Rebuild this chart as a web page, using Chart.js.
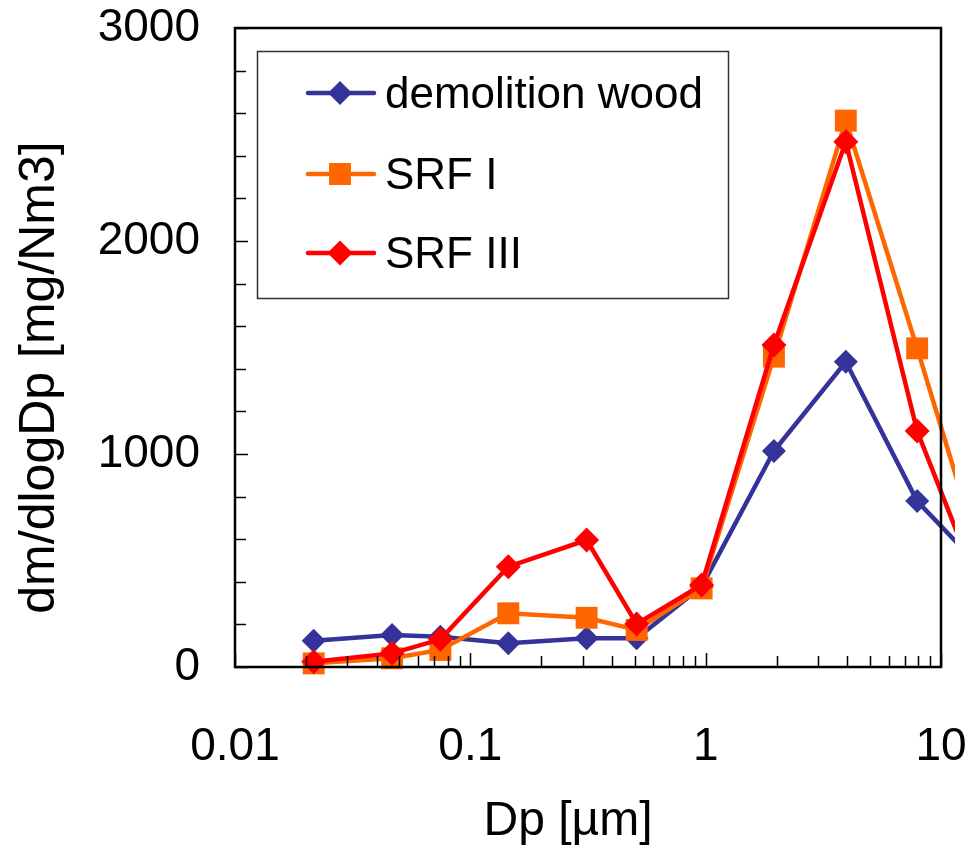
<!DOCTYPE html>
<html>
<head>
<meta charset="utf-8">
<script src="https://cdn.jsdelivr.net/npm/chart.js@4/dist/chart.umd.min.js"></script>
<style>
  html, body { margin: 0; padding: 0; background: #fff; }
  #wrap { width: 978px; height: 852px; position: relative; }
</style>
</head>
<body>
<div id="wrap"><canvas id="chart"></canvas></div>
<script>
(function () {
  'use strict';

  // particle diameter, um (impactor stage midpoints)
  var DP = [0.0216, 0.0465, 0.0746, 0.145, 0.312, 0.509, 0.961, 1.95, 3.94, 7.92, 15.9];

  var DEMOLITION_WOOD = [123, 150, 142, 111, 135, 135, 377, 1014, 1433, 779, 428];
  var SRF_I = [17, 41, 80, 252, 231, 174, 369, 1457, 2565, 1496, 395];
  var SRF_III = [25, 64, 130, 471, 596, 202, 385, 1512, 2466, 1108, 257];

  var X_LABELS = [0.01, 0.1, 1, 10];
  var Y_LABELS = [0, 1000, 2000, 3000];
  var X_TITLE = 'Dp [µm]';
  var Y_TITLE = 'dm/dlogDp [mg/Nm3]';

  var FONT = "'Liberation Sans', Arial, sans-serif";

  function points(ys) {
    return ys.map(function (y, i) { return { x: DP[i], y: y }; });
  }

  function series(label, ys, color, style, radius, order) {
    return {
      label: label,
      data: points(ys),
      borderColor: color,
      backgroundColor: color,
      borderWidth: 4.5,
      pointStyle: style,
      pointRadius: radius,
      pointHoverRadius: radius,
      pointBorderWidth: 0,
      tension: 0,
      order: order,
      clip: { left: 15, top: 15, right: 14, bottom: 15 }
    };
  }

  var datasets = [
    series('demolition wood', DEMOLITION_WOOD, '#333399', 'rectRot', 12, 3),
    series('SRF I', SRF_I, '#FF6600', 'rect', 15.5, 2),
    series('SRF III', SRF_III, '#FF0000', 'rectRot', 12.5, 1)
  ];

  // frame, inward tick marks, axis titles and the boxed legend
  var decorPlugin = {
    id: 'decor',
    afterDraw: function (chart) {
      var ctx = chart.ctx;
      var a = chart.chartArea;
      var xs = chart.scales.x;
      var ys = chart.scales.y;
      ctx.save();

      ctx.strokeStyle = '#000';
      ctx.lineWidth = 1.5;
      ys.ticks.forEach(function (t) {
        var py = Math.round(ys.getPixelForValue(t.value)) + 0.5;
        var len = t.value % 1000 === 0 ? 13 : 11;
        ctx.beginPath();
        ctx.moveTo(a.left, py);
        ctx.lineTo(a.left + len, py);
        ctx.stroke();
      });
      xs.ticks.forEach(function (t) {
        var px = Math.round(xs.getPixelForValue(t.value)) + 0.5;
        var major = X_LABELS.indexOf(t.value) >= 0;
        ctx.beginPath();
        ctx.moveTo(px, a.bottom);
        ctx.lineTo(px, a.bottom - (major ? 14 : 11));
        ctx.stroke();
      });

      ctx.lineWidth = 2.5;
      ctx.strokeRect(a.left, a.top, a.right - a.left, a.bottom - a.top);

      // axis titles (sit a little off-centre in the original)
      ctx.fillStyle = '#000';
      ctx.textAlign = 'center';
      ctx.textBaseline = 'middle';
      ctx.font = '48px ' + FONT;
      ctx.fillText(X_TITLE, (a.left + a.right) / 2 - 20, a.bottom + 155);
      ctx.save();
      ctx.translate(40, (a.top + a.bottom) / 2 + 30);
      ctx.rotate(-Math.PI / 2);
      ctx.font = '50px ' + FONT;
      ctx.fillText(Y_TITLE, 0, 0);
      ctx.restore();

      // legend
      var lx = a.left + 22, ly = a.top + 23, lw = 471, lh = 247;
      ctx.fillStyle = '#fff';
      ctx.fillRect(lx, ly, lw, lh);
      ctx.lineWidth = 1.5;
      ctx.strokeStyle = '#333';
      ctx.strokeRect(lx + 0.5, ly + 0.5, lw, lh);

      var rows = [42, 123, 202];
      chart.data.datasets.forEach(function (ds, i) {
        var cy = ly + rows[i];
        ctx.strokeStyle = ds.borderColor;
        ctx.lineWidth = 4.5;
        ctx.lineCap = 'round';
        ctx.beginPath();
        ctx.moveTo(lx + 51, cy);
        ctx.lineTo(lx + 117, cy);
        ctx.stroke();
        ctx.fillStyle = ds.backgroundColor;
        Chart.helpers.drawPoint(ctx, {
          pointStyle: ds.pointStyle,
          rotation: 0,
          borderWidth: 0,
          radius: ds.pointRadius
        }, lx + 83, cy);
        ctx.fillStyle = '#000';
        ctx.font = '44px ' + FONT;
        ctx.textAlign = 'left';
        ctx.textBaseline = 'middle';
        ctx.fillText(ds.label, lx + 128, cy + 3);
      });

      ctx.restore();
    }
  };

  new Chart(document.getElementById('chart'), {
    type: 'line',
    data: { datasets: datasets },
    plugins: [decorPlugin],
    options: {
      responsive: true,
      maintainAspectRatio: false,
      animation: false,
      layout: { padding: { left: 10, right: 37, top: 28, bottom: 0 } },
      plugins: { legend: { display: false }, tooltip: { enabled: false } },
      scales: {
        x: {
          type: 'logarithmic',
          min: 0.01,
          max: 10,
          afterFit: function (s) {
            s.height = 185;
            s.paddingLeft = 0;
            s.paddingRight = 0;
          },
          afterBuildTicks: function (s) {
            var t = [];
            for (var e = -2; e < 1; e++) {
              for (var k = 1; k < 10; k++) t.push({ value: +(k * Math.pow(10, e)).toPrecision(3) });
            }
            t.push({ value: 10 });
            s.ticks = t;
          },
          grid: { display: false, drawTicks: false },
          border: { display: false },
          ticks: {
            autoSkip: false,
            maxRotation: 0,
            padding: 53,
            color: '#000',
            font: { family: FONT, size: 46 },
            callback: function (v) { return X_LABELS.indexOf(v) >= 0 ? String(v) : ''; }
          },
          title: { display: false }
        },
        y: {
          min: 0,
          max: 3000,
          afterFit: function (s) {
            s.width = 225;
            s.paddingTop = 0;
            s.paddingBottom = 0;
          },
          grid: { display: false, drawTicks: false },
          border: { display: false },
          ticks: {
            stepSize: 200,
            autoSkip: false,
            padding: 35,
            color: '#000',
            font: { family: FONT, size: 46 },
            callback: function (v) { return Y_LABELS.indexOf(v) >= 0 ? String(v) : ''; }
          },
          title: { display: false }
        }
      }
    }
  });
})();
</script>
</body>
</html>
